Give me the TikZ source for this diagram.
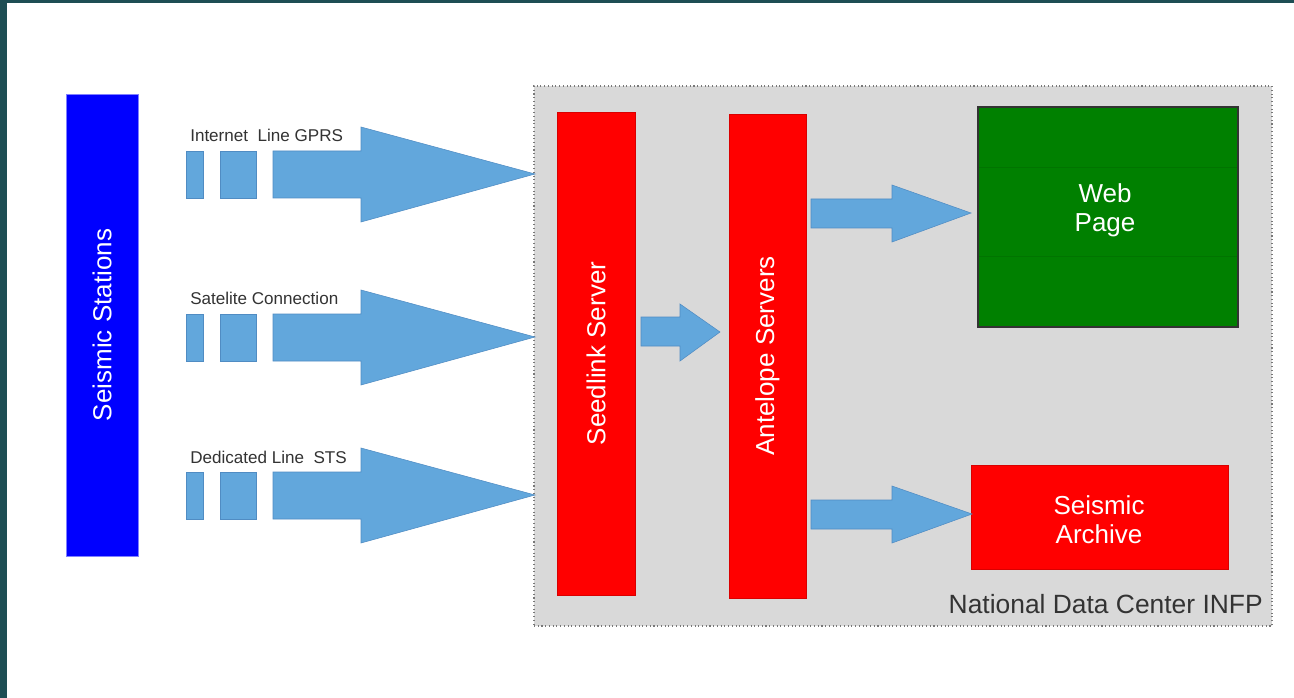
\documentclass[tikz,border=0pt]{standalone}
\usepackage{fontspec}
\setmainfont{Liberation Sans}
\usetikzlibrary{fit}
\definecolor{teal0}{RGB}{30,78,84}
\definecolor{arrowblue}{RGB}{98,167,220}
\definecolor{arrowedge}{RGB}{80,140,195}
\definecolor{panelgray}{RGB}{217,217,217}
\definecolor{dotgray}{RGB}{120,120,120}
\definecolor{txtgray}{RGB}{51,51,51}
\definecolor{webgreen}{RGB}{0,128,0}
\definecolor{webline}{RGB}{0,116,0}
\definecolor{pureblue}{RGB}{0,0,255}
\definecolor{purered}{RGB}{255,0,0}
\begin{document}
\begin{tikzpicture}[x=0.75pt,y=-0.75pt,
  blockbox/.style={inner sep=0pt, outer sep=0pt},
  redbox/.style={blockbox, fill=purered, draw=purered!85!black, line width=0.4pt},
  fat/.style={fill=arrowblue, draw=arrowedge, line width=0.4pt},
  bigtxt/.style={text=white, font=\fontsize{19.5}{22}\selectfont},
  smalltxt/.style={text=txtgray, font=\fontsize{12.8}{15}\selectfont, anchor=base west, inner sep=0pt},
]
\useasboundingbox (0,0) rectangle (1294,698);
\fill[white] (0,0) rectangle (1294,698);
\fill[teal0] (0,0) rectangle (1294,3);
\fill[teal0] (0,0) rectangle (7,698);

% panel
\node[fit={(534,86) (1272,626)}, blockbox, fill=panelgray, draw=dotgray, dotted, line width=0.8pt] (ndc) {};
\node[text=txtgray, font=\fontsize{19.8}{22}\selectfont, anchor=base east, inner sep=0pt] (ndclabel) at (1263,613) {National Data Center INFP};

% seismic stations
\node[fit={(66,94) (138,556)}, blockbox, fill=pureblue, draw=pureblue!50!white, line width=0.5pt] (st) {};
\node[bigtxt, rotate=90] (sttext) at (st.center) {Seismic Stations};

% servers
\node[fit={(557,112) (635,595)}, redbox] (seed) {};
\node[bigtxt, rotate=90] (seedtext) at (seed.center) {Seedlink Server};
\node[fit={(729,114) (806,598)}, redbox] (ante) {};
\node[bigtxt, rotate=90] (antetext) at (ante.center) {Antelope Servers};

% web page
\node[fit={(978,107) (1238,327)}, blockbox, fill=webgreen, draw=black!80, line width=2.2pt] (web) {};
\draw[webline, line width=0.5pt] (979,167) -- (1237,167);
\draw[webline, line width=0.5pt] (979,256) -- (1237,256);
\node[bigtxt, align=center] (webtext) at (1105,210) {Web\\Page};

% archive
\node[fit={(971,465) (1228,569)}, redbox] (arch) {};
\node[bigtxt, align=center] (archtext) at (1099,520) {Seismic\\Archive};

% incoming links
\foreach \dy in {0,163,321}{
  \draw[fat] (186,151+\dy) rectangle (203,198+\dy);
  \draw[fat] (220,151+\dy) rectangle (256,198+\dy);
  \draw[fat] (273,151+\dy) -- (361,151+\dy) -- (361,127+\dy) -- (535,174+\dy)
     -- (361,222+\dy) -- (361,198+\dy) -- (273,198+\dy) -- cycle;
}
\node[smalltxt] (l1) at (190,142) {Internet\ \ Line GPRS};
\node[smalltxt] (l2) at (190,305) {Satelite Connection};
\node[smalltxt] (l3) at (190,463) {Dedicated Line\ \ STS};

% seedlink -> antelope
\draw[fat] (641,317) -- (680,317) -- (680,304) -- (720,332) -- (680,361) -- (680,346) -- (641,346) -- cycle;
% antelope -> web
\draw[fat] (811,199) -- (892,199) -- (892,185) -- (971,213) -- (892,242) -- (892,228) -- (811,228) -- cycle;
% antelope -> archive
\draw[fat] (811,500) -- (892,500) -- (892,486) -- (972,514) -- (892,543) -- (892,529) -- (811,529) -- cycle;
\end{tikzpicture}
\end{document}
